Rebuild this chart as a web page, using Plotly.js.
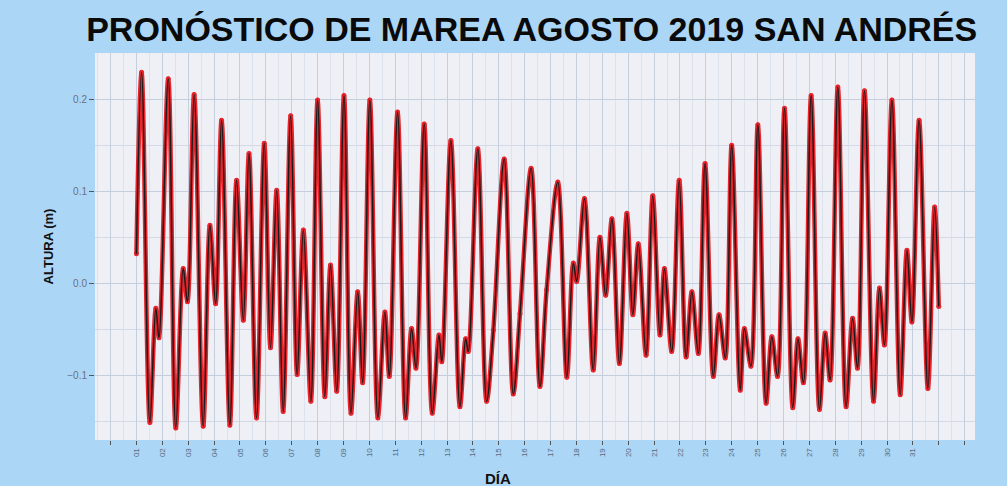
<!DOCTYPE html>
<html>
<head>
<meta charset="utf-8">
<script src="https://cdn.plot.ly/plotly-3.0.1.min.js"></script>
<style>
  html, body { margin: 0; padding: 0; background: #acd6f6; }
  #chart { width: 1007px; height: 486px; }
</style>
</head>
<body>
<div id="chart"></div>
<script>
// Tide turning points: day of August (fractional) and height (m)
const eventDay = [
  1.00, 1.20, 1.52, 1.75, 1.87, 2.23, 2.52, 2.81, 2.97, 3.23, 3.58, 3.84, 4.06,
  4.29, 4.61, 4.87, 5.13, 5.35, 5.64, 5.94, 6.18, 6.42, 6.67, 6.96, 7.21, 7.45,
  7.74, 8.00, 8.28, 8.50, 8.74, 9.02, 9.29, 9.55, 9.74, 10.02, 10.33, 10.60, 10.77,
  11.09, 11.40, 11.63, 11.80, 12.12, 12.43, 12.69, 12.80, 13.15, 13.50, 13.72, 13.82,
  14.19, 14.53, 14.79, 15.21, 15.56, 15.82, 16.25, 16.59, 16.85, 17.28, 17.63, 17.88,
  18.01, 18.31, 18.65, 18.91, 19.13, 19.37, 19.66, 19.95, 20.18, 20.39, 20.69, 20.95,
  21.23, 21.40, 21.68, 21.97, 22.24, 22.46, 22.71, 22.97, 23.29, 23.51, 23.75, 24.00,
  24.33, 24.49, 24.74, 25.01, 25.33, 25.55, 25.77, 26.04, 26.36, 26.56, 26.77, 27.07,
  27.39, 27.61, 27.80, 28.10, 28.42, 28.67, 28.86, 29.13, 29.48, 29.71, 29.90, 30.19,
  30.51, 30.77, 30.96, 31.24, 31.58, 31.84, 32.00
];
const eventHeight = [
  0.032, 0.229, -0.151, -0.027, -0.059, 0.222, -0.157, 0.016, -0.020, 0.205, -0.155, 0.063, -0.022,
  0.177, -0.154, 0.112, -0.040, 0.141, -0.146, 0.152, -0.070, 0.101, -0.139, 0.182, -0.099, 0.058,
  -0.128, 0.199, -0.123, 0.020, -0.117, 0.204, -0.141, -0.009, -0.108, 0.199, -0.146, -0.031, -0.101,
  0.186, -0.146, -0.049, -0.092, 0.173, -0.141, -0.056, -0.085, 0.155, -0.134, -0.060, -0.074,
  0.146, -0.128, -0.051, 0.135, -0.120, -0.033, 0.125, -0.112, -0.007, 0.110, -0.102, 0.022,
  0.002, 0.092, -0.094, 0.050, -0.013, 0.070, -0.087, 0.076, -0.034, 0.043, -0.078, 0.095,
  -0.056, 0.016, -0.074, 0.112, -0.080, -0.009, -0.076, 0.130, -0.101, -0.034, -0.081, 0.150,
  -0.116, -0.049, -0.090, 0.172, -0.130, -0.058, -0.101, 0.190, -0.135, -0.060, -0.108, 0.204,
  -0.137, -0.054, -0.105, 0.213, -0.134, -0.038, -0.092, 0.209, -0.128, -0.005, -0.067, 0.199,
  -0.121, 0.036, -0.042, 0.177, -0.114, 0.083, -0.025
];

// Day axis ticks (0..33) and their labels (days 01..31 labelled)
const dayTicks = [0,1,2,3,4,5,6,7,8,9,10,11,12,13,14,15,16,17,18,19,20,21,22,23,24,25,26,27,28,29,30,31,32,33];
const dayLabels = ['', '01','02','03','04','05','06','07','08','09','10','11','12','13','14','15','16',
  '17','18','19','20','21','22','23','24','25','26','27','28','29','30','31', '', ''];

const titleText = 'PRONÓSTICO DE MAREA AGOSTO 2019 SAN ANDRÉS';
const yTitle = 'ALTURA (m)';
const xTitle = 'DÍA';

const traces = [
  {
    x: eventDay, y: eventHeight, type: 'scatter', mode: 'lines+markers',
    line: { color: '#e8141c', width: 4.5, shape: 'spline', smoothing: 1 },
    marker: { color: '#e8141c', size: 5 },
    opacity: 0.92,
    hoverinfo: 'skip', showlegend: false
  },
  {
    x: eventDay, y: eventHeight, type: 'scatter', mode: 'lines',
    line: { color: '#1a1a1a', width: 1.5, shape: 'spline', smoothing: 1 },
    showlegend: false
  }
];

const layout = {
  width: 1007, height: 486,
  paper_bgcolor: '#acd6f6',
  plot_bgcolor: '#eff0f6',
  margin: { l: 95, r: 32, t: 53, b: 46 },
  font: { family: 'Liberation Sans, Arial, sans-serif', color: '#000' },
  title: {
    text: '<b>' + titleText + '</b>',
    font: { family: 'Liberation Sans, Arial, sans-serif', size: 34, color: '#0a0a0a' },
    x: 0.528, xanchor: 'center', y: 0.94, yanchor: 'middle'
  },
  xaxis: {
    range: [-0.6, 33.4],
    tickmode: 'array', tickvals: dayTicks, ticktext: dayLabels,
    tickangle: -90, tickfont: { size: 8, color: '#5a6a80' },
    ticks: 'outside', ticklen: 4, tickcolor: '#555',
    showgrid: true, gridcolor: '#c4cedd', gridwidth: 1,
    minor: { tickmode: 'linear', tick0: 0.5, dtick: 1, showgrid: true, gridcolor: '#dde3ec', ticklen: 0 },
    zeroline: false, showline: false
  },
  yaxis: {
    range: [-0.17, 0.25],
    tickmode: 'linear', tick0: 0, dtick: 0.1, tickformat: '.1f',
    tickfont: { size: 10, color: '#6a7280' },
    ticks: 'outside', ticklen: 5, tickcolor: '#555',
    showgrid: true, gridcolor: '#c4cedd', gridwidth: 1,
    minor: { tickmode: 'linear', tick0: 0.05, dtick: 0.1, showgrid: true, gridcolor: '#d3dae6', ticklen: 0 },
    zeroline: false, showline: false,
    title: { text: '<b>' + yTitle + '</b>', font: { size: 13, color: '#111' }, standoff: 10 }
  },
  annotations: [
    { text: '<b>' + xTitle + '</b>', xref: 'paper', yref: 'paper', x: 0.458, y: -0.1,
      xanchor: 'center', yanchor: 'middle', showarrow: false,
      font: { size: 15, color: '#111' } }
  ]
};

Plotly.newPlot('chart', traces, layout, { displayModeBar: false, staticPlot: true });
</script>
</body>
</html>
